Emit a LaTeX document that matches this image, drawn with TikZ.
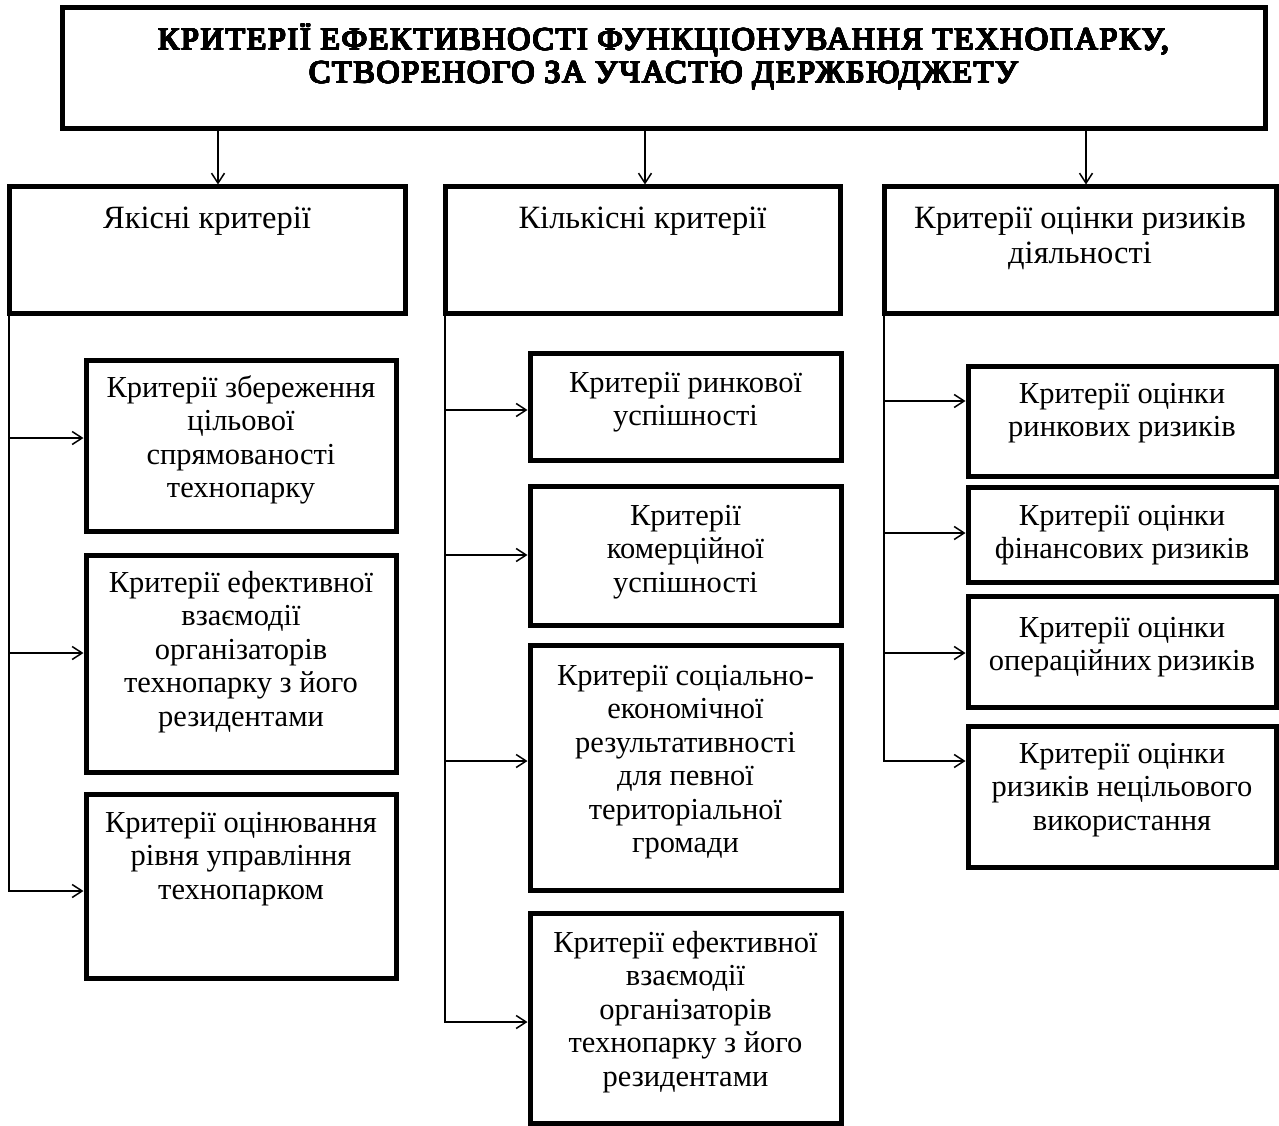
\documentclass[tikz,border=0pt]{standalone}
\usepackage{fontspec}
\usepackage[copies]{contour}
\contourlength{0.75pt}
\contournumber{24}
\setmainfont{Liberation Serif}
\newfontfamily\ttlfont{Liberation Serif}[LetterSpace=5.5]
\usetikzlibrary{arrows.meta}
\tikzset{
  frame/.style={draw, line width=5pt, rectangle, inner sep=0pt},
  conn/.style={line width=1.5pt, -{Straight Barb[length=10pt,width=13pt]}},
  txt/.style={anchor=base, inner sep=0pt, font=\fontsize{30.5}{33.5}\selectfont},
  hdr/.style={anchor=base, inner sep=0pt, font=\fontsize{32.5}{35}\selectfont},
  ttl/.style={anchor=base, inner sep=0pt, font=\ttlfont\fontsize{32}{33}\selectfont},
}
\newcommand\ctext[2]{\parbox[t]{#1}{\centering #2}}
\begin{document}
\begin{tikzpicture}[x=1pt,y=-1pt]
\useasboundingbox (0,0) rectangle (1279,1126);
% title
\node[frame, minimum width=1203pt, minimum height=121.5pt] (T) at (663.5,68.25) {};
\node[ttl] (Ttx) at (T.north |- 0,50) {\ctext{1190pt}{\contour{black}{КРИТЕРІЇ ЕФЕКТИВНОСТІ ФУНКЦІОНУВАННЯ ТЕХНОПАРКУ,}\\\contour{black}{СТВОРЕНОГО ЗА УЧАСТЮ ДЕРЖБЮДЖЕТУ}}};
% level 2
\node[frame, minimum width=396pt, minimum height=126pt] (L) at (207,250) {};
\node[frame, minimum width=395pt, minimum height=126pt] (K) at (642.5,250) {};
\node[frame, minimum width=392pt, minimum height=126pt] (R) at (1080,250) {};
\node[hdr] (Ltx) at (L.north |- 0,229) {\ctext{385pt}{Якісні критерії}};
\node[hdr] (Ktx) at (K.north |- 0,229) {\ctext{385pt}{Кількісні критерії}};
\node[hdr] (Rtx) at (R.north |- 0,229) {\ctext{385pt}{Критерії оцінки ризиків\\діяльності}};
% left column
\node[frame, minimum width=310pt, minimum height=171pt] (B1) at (241,445.5) {};
\node[frame, minimum width=310pt, minimum height=217pt] (B2) at (241,663.5) {};
\node[frame, minimum width=310pt, minimum height=184pt] (B3) at (241,886) {};
\node[txt] (B1tx) at (B1.north |- 0,397) {\ctext{304pt}{Критерії збереження\\цільової\\спрямованості\\технопарку}};
\node[txt] (B2tx) at (B2.north |- 0,592) {\ctext{304pt}{Критерії ефективної\\взаємодії\\організаторів\\технопарку з його\\резидентами}};
\node[txt] (B3tx) at (B3.north |- 0,832) {\ctext{304pt}{Критерії оцінювання\\рівня управління\\технопарком}};
% middle column
\node[frame, minimum width=311pt, minimum height=107pt] (M1) at (685.5,406.5) {};
\node[frame, minimum width=311pt, minimum height=139pt] (M2) at (685.5,555.5) {};
\node[frame, minimum width=311pt, minimum height=245pt] (M3) at (685.5,767.5) {};
\node[frame, minimum width=311pt, minimum height=210pt] (M4) at (685.5,1018) {};
\node[txt] (M1tx) at (M1.north |- 0,392) {\ctext{304pt}{Критерії ринкової\\успішності}};
\node[txt] (M2tx) at (M2.north |- 0,525) {\ctext{304pt}{Критерії\\комерційної\\успішності}};
\node[txt] (M3tx) at (M3.north |- 0,685) {\ctext{304pt}{Критерії соціально-\\економічної\\результативності\\для певної\\територіальної\\громади}};
\node[txt] (M4tx) at (M4.north |- 0,952) {\ctext{304pt}{Критерії ефективної\\взаємодії\\організаторів\\технопарку з його\\резидентами}};
% right column
\node[frame, minimum width=308pt, minimum height=110pt] (R1) at (1122,421) {};
\node[frame, minimum width=308pt, minimum height=95pt] (R2) at (1122,534.5) {};
\node[frame, minimum width=308pt, minimum height=111pt] (R3) at (1122,651.5) {};
\node[frame, minimum width=308pt, minimum height=141pt] (R4) at (1122,796.5) {};
\node[txt] (R1tx) at (R1.north |- 0,403) {\ctext{302pt}{Критерії оцінки\\ринкових ризиків}};
\node[txt] (R2tx) at (R2.north |- 0,525) {\ctext{302pt}{Критерії оцінки\\фінансових ризиків}};
\node[txt] (R3tx) at (R3.north |- 0,637) {\ctext{302pt}{Критерії оцінки\\операційних\kern-2pt\ ризиків}};
\node[txt] (R4tx) at (R4.north |- 0,763) {\ctext{302pt}{Критерії оцінки\\ризиків нецільового\\використання}};
% arrows from title
\coordinate (aL) at ([xshift=11pt]L.north);
\coordinate (aK) at ([xshift=2.5pt]K.north);
\coordinate (aR) at ([xshift=6pt]R.north);
\draw[conn] (aL |- T.south) -- (aL);
\draw[conn] (aK |- T.south) -- (aK);
\draw[conn] (aR |- T.south) -- (aR);
% trunks
\coordinate (Lt) at ([xshift=2.5pt]L.south west);
\coordinate (Kt) at ([xshift=2.5pt]K.south west);
\coordinate (Rt) at ([xshift=2.5pt]R.south west);
\coordinate (b1in) at (B1.west |- 0,438);
\coordinate (b2in) at (B2.west |- 0,653);
\coordinate (b3in) at (B3.west |- 0,891);
\coordinate (m1in) at (M1.west |- 0,410);
\coordinate (m2in) at (M2.west |- 0,555);
\coordinate (m3in) at (M3.west |- 0,761);
\coordinate (m4in) at (M4.west |- 0,1022);
\coordinate (r1in) at (R1.west |- 0,401);
\coordinate (r2in) at (R2.west |- 0,533);
\coordinate (r3in) at (R3.west |- 0,653);
\coordinate (r4in) at (R4.west |- 0,761);
\draw[conn] (Lt) |- (b3in);
\draw[conn] (Lt |- b1in) -- (b1in);
\draw[conn] (Lt |- b2in) -- (b2in);
\draw[conn] (Kt) |- (m4in);
\draw[conn] (Kt |- m1in) -- (m1in);
\draw[conn] (Kt |- m2in) -- (m2in);
\draw[conn] (Kt |- m3in) -- (m3in);
\draw[conn] (Rt) |- (r4in);
\draw[conn] (Rt |- r1in) -- (r1in);
\draw[conn] (Rt |- r2in) -- (r2in);
\draw[conn] (Rt |- r3in) -- (r3in);
\end{tikzpicture}
\end{document}
